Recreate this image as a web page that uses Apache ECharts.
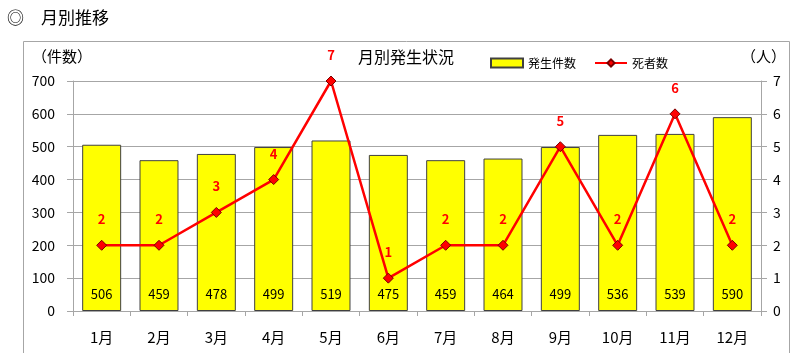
<!DOCTYPE html>
<html><head><meta charset="utf-8">
<script src="https://cdn.jsdelivr.net/npm/echarts@6/dist/echarts.min.js"></script>
<style>html,body{margin:0;padding:0;background:#fff}#c{width:795px;height:353px}</style>
</head><body><div id="c"></div>
<script>
const categories = ['1月','2月','3月','4月','5月','6月','7月','8月','9月','10月','11月','12月'];
const incidents = [506,459,478,499,519,475,459,464,499,536,539,590];
const deaths = [2,2,3,4,7,1,2,2,5,2,6,2];
const leftTicks = [0,100,200,300,400,500,600,700];
const rightTicks = [0,1,2,3,4,5,6,7];

const F = '"Noto Sans CJK JP","Noto Sans",sans-serif';
const chart = echarts.init(document.getElementById('c'));
chart.setOption({
  animation:false,
  textStyle:{fontFamily:F},
  graphic:[
    {type:'text',left:7,top:9,style:{text:'◎　月別推移',font:'17px '+F,fill:'#000'}},
    {type:'rect',shape:{x:23.5,y:41.5,width:766,height:330},style:{fill:'none',stroke:'#a6a6a6',lineWidth:1}},
    {type:'text',left:32,top:49,style:{text:'（件数）',font:'15px '+F,fill:'#000'}},
    {type:'text',left:741,top:49,style:{text:'（人）',font:'15px '+F,fill:'#000'}},
    {type:'text',left:358,top:49,style:{text:'月別発生状況',font:'16px '+F,fill:'#000'}}
  ],
  legend:{
    left:485, top:52, itemGap:18, itemWidth:32, itemHeight:9,
    textStyle:{fontSize:12,color:'#000',fontFamily:F},
    data:[{name:'発生件数',icon:'rect'},{name:'死者数'}]
  },
  grid:{left:73,right:34,top:81,bottom:42},
  xAxis:{
    type:'category',data:categories,
    axisLine:{lineStyle:{color:'#a6a6a6'}},
    axisTick:{show:true,inside:false,length:5,lineStyle:{color:'#a6a6a6'}},
    axisLabel:{color:'#000',fontSize:15,margin:19,fontFamily:F}
  },
  yAxis:[
    {type:'value',min:0,max:700,interval:100,
     axisLine:{show:true,lineStyle:{color:'#a6a6a6'}},
     axisTick:{show:true,length:6,lineStyle:{color:'#a6a6a6'}},
     splitLine:{lineStyle:{color:'#a6a6a6'}},
     axisLabel:{color:'#000',fontSize:14,margin:18,fontFamily:F,
       formatter:v=>leftTicks.includes(v)?String(v):''}},
    {type:'value',min:0,max:7,interval:1,
     axisLine:{show:true,lineStyle:{color:'#a6a6a6'}},
     axisTick:{show:true,length:6,lineStyle:{color:'#a6a6a6'}},
     splitLine:{show:false},
     axisLabel:{color:'#000',fontSize:14,margin:12,fontFamily:F,
       formatter:v=>rightTicks.includes(v)?String(v):''}}
  ],
  series:[
    {name:'発生件数',type:'bar',data:incidents,barWidth:'68%',
     itemStyle:{color:'#ffff00',borderColor:'#404040',borderWidth:1},
     label:{show:true,position:'insideBottom',distance:10,color:'#000',fontSize:13,fontFamily:F}},
    {name:'死者数',type:'line',yAxisIndex:1,data:deaths,
     symbol:'diamond',symbolSize:10,
     lineStyle:{color:'#ff0000',width:2.5},
     itemStyle:{color:'#ff0000',borderColor:'#7a0000',borderWidth:1},
     label:{show:true,position:'top',distance:14,color:'#ff0000',fontWeight:'bold',fontSize:13,fontFamily:F},
     z:5}
  ]
});
</script></body></html>
